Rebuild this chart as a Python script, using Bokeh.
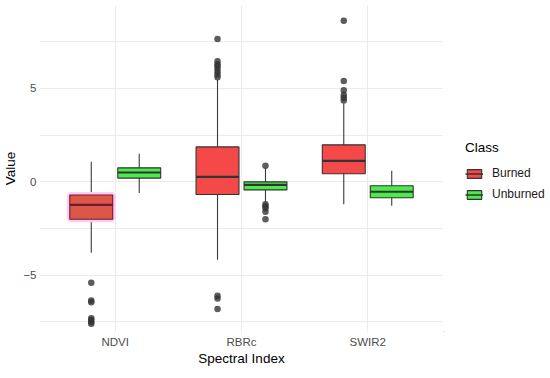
from bokeh.plotting import figure
from bokeh.layouts import row
from bokeh.models import ColumnDataSource, FixedTicker, Range1d, Legend, LegendItem
from bokeh.transform import dodge
from bokeh.embed import file_html
from bokeh.resources import INLINE

# ---- data ----
categories = ["NDVI", "RBRc", "SWIR2"]
classes = ["Burned", "Unburned"]

burned_lower = [-3.8, -4.17, -1.2]
burned_q1 = [-2.0, -0.68, 0.43]
burned_median = [-1.23, 0.27, 1.12]
burned_q3 = [-0.7, 1.87, 1.98]
burned_upper = [1.07, 5.45, 4.2]
burned_outliers = [
    [-5.4, -6.35, -6.45, -7.3, -7.4, -7.5, -7.6],
    [5.6, 5.75, 5.9, 6.05, 6.2, 6.3, 6.45, 7.65, -6.1, -6.25, -6.8],
    [4.35, 4.5, 4.65, 4.9, 5.4, 8.62],
]

unburned_lower = [-0.6, -1.1, -1.28]
unburned_q1 = [0.2, -0.43, -0.85]
unburned_median = [0.5, -0.16, -0.53]
unburned_q3 = [0.75, 0.0, -0.21]
unburned_upper = [1.5, 0.75, 0.6]
unburned_outliers = [
    [],
    [0.86, -1.2, -1.3, -1.4, -1.6, -2.0],
    [],
]

y_ticks = [-5, 0, 5]
y_minor = [-7.5, -2.5, 2.5, 7.5]

# ---- styles ----
FONT = "Liberation Sans"
RED = "#F54949"
GREEN = "#4BEB4B"
burned_fill = ["#DC5747", RED, RED]
burned_line = ["#6E1A30", "#333333", "#333333"]
burned_halo = [1.0, 0.0, 0.0]

H = 368
p = figure(width=443, height=H, output_backend="svg", toolbar_location=None,
           x_range=Range1d(0.4, 3.6), y_range=Range1d(-8.01, 9.44),
           min_border_left=34, min_border_right=0, min_border_top=5,
           min_border_bottom=30)
p.outline_line_color = None
p.background_fill_color = "white"

# grid
p.xgrid.grid_line_color = "#EBEBEB"
p.ygrid.grid_line_color = "#EBEBEB"
p.ygrid.minor_grid_line_color = "#EBEBEB"
p.xgrid.grid_line_width = 1
p.ygrid.grid_line_width = 1

# axes
p.xaxis.ticker = FixedTicker(ticks=[1, 2, 3])
p.xaxis.major_label_overrides = {i + 1: c for i, c in enumerate(categories)}
p.yaxis.ticker = FixedTicker(ticks=y_ticks, minor_ticks=y_minor)
for ax in (p.xaxis[0], p.yaxis[0]):
    ax.axis_line_color = None
    ax.major_tick_line_color = None
    ax.minor_tick_line_color = None
    ax.major_tick_out = 0
    ax.major_tick_in = 0
    ax.minor_tick_out = 0
    ax.minor_tick_in = 0
    ax.major_label_text_font = FONT
    ax.major_label_text_font_size = "11.5px"
    ax.major_label_text_color = "#4D4D4D"
    ax.axis_label_text_font = FONT
    ax.axis_label_text_font_size = "13.5px"
    ax.axis_label_text_font_style = "normal"
    ax.axis_label_text_color = "#000000"
p.xaxis.axis_label = "Spectral Index"
p.yaxis.axis_label = "Value"
p.xaxis.major_label_standoff = 4
p.xaxis.axis_label_standoff = 0
p.yaxis.major_label_standoff = 3
p.yaxis.axis_label_standoff = 2

pos = [i + 1 for i in range(len(categories))]
OFF = 0.19
BW = 0.34


def draw(lower, q1, med, q3, upper, outliers, offset, fill, line, halo):
    src = ColumnDataSource(dict(pos=pos, lower=lower, q1=q1, med=med, q3=q3,
                                upper=upper, fill=fill, line=line, halo=halo))
    x = dodge("pos", offset, range=p.x_range)
    p.segment(x0=x, x1=x, y0="lower", y1="upper", source=src,
              line_color="#3a3a3a", line_width=1.1)
    p.vbar(x=x, width=BW, top="q3", bottom="q1", source=src,
           fill_alpha=0, line_color="#FFCCF2", line_width=6, line_alpha="halo")
    box = p.vbar(x=x, width=BW, top="q3", bottom="q1", source=src,
                 fill_color="fill", line_color="line", line_width=1.1)
    half = BW / 2
    med_src = ColumnDataSource(dict(x0=[v + offset - half for v in pos],
                                    x1=[v + offset + half for v in pos],
                                    med=med, line=line))
    p.segment(x0="x0", x1="x1", y0="med", y1="med", source=med_src,
              line_color="line", line_width=2.2)
    ox, oy = [], []
    for i, vals in enumerate(outliers):
        for v in vals:
            ox.append(pos[i])
            oy.append(v)
    osrc = ColumnDataSource(dict(pos=ox, y=oy))
    p.scatter(x=dodge("pos", offset, range=p.x_range), y="y", source=osrc,
              size=6.5, fill_color="#333333", line_color=None, fill_alpha=0.8)
    return box


draw(burned_lower, burned_q1, burned_median, burned_q3, burned_upper,
     burned_outliers, -OFF, burned_fill, burned_line, burned_halo)
draw(unburned_lower, unburned_q1, unburned_median, unburned_q3,
     unburned_upper, unburned_outliers, OFF, [GREEN] * 3,
     ["#333333"] * 3, [0.0] * 3)

# ---- legend panel (separate plot to the right) ----
lg = figure(width=103, height=H, output_backend="svg", toolbar_location=None,
            x_range=Range1d(0, 1), y_range=Range1d(0, 1),
            x_axis_location=None, y_axis_location=None,
            min_border_left=0, min_border_right=0, min_border_top=0,
            min_border_bottom=0)
lg.outline_line_color = None
lg.xgrid.visible = False
lg.ygrid.visible = False

lb = lg.vbar(x=[-10], width=0.1, top=[0], bottom=[-1], fill_color=RED,
             line_color="#333333", line_width=1.1)
lbm = lg.segment(x0=[-10], x1=[-10], y0=[0], y1=[0], line_color="#333333", line_width=1.5)
lu = lg.vbar(x=[-10], width=0.1, top=[0], bottom=[-1], fill_color=GREEN,
             line_color="#333333", line_width=1.1)
lum = lg.segment(x0=[-10], x1=[-10], y0=[0], y1=[0], line_color="#333333", line_width=1.5)

legend = Legend(items=[LegendItem(label=classes[0], renderers=[lb, lbm]),
                       LegendItem(label=classes[1], renderers=[lu, lum])],
                location=(22, 130), title="Class",
                title_text_font=FONT, title_text_font_size="13.5px",
                title_text_font_style="normal", title_text_color="#000000",
                title_standoff=11,
                label_text_font=FONT, label_text_font_size="12px",
                label_text_color="#1a1a1a",
                glyph_width=18, glyph_height=11, label_height=11,
                label_standoff=9, spacing=7, padding=0, margin=0,
                border_line_color=None, background_fill_alpha=0)
lg.add_layout(legend, "center")

layout = row(p, lg)
open("out.html", "w").write(file_html(layout, INLINE))
